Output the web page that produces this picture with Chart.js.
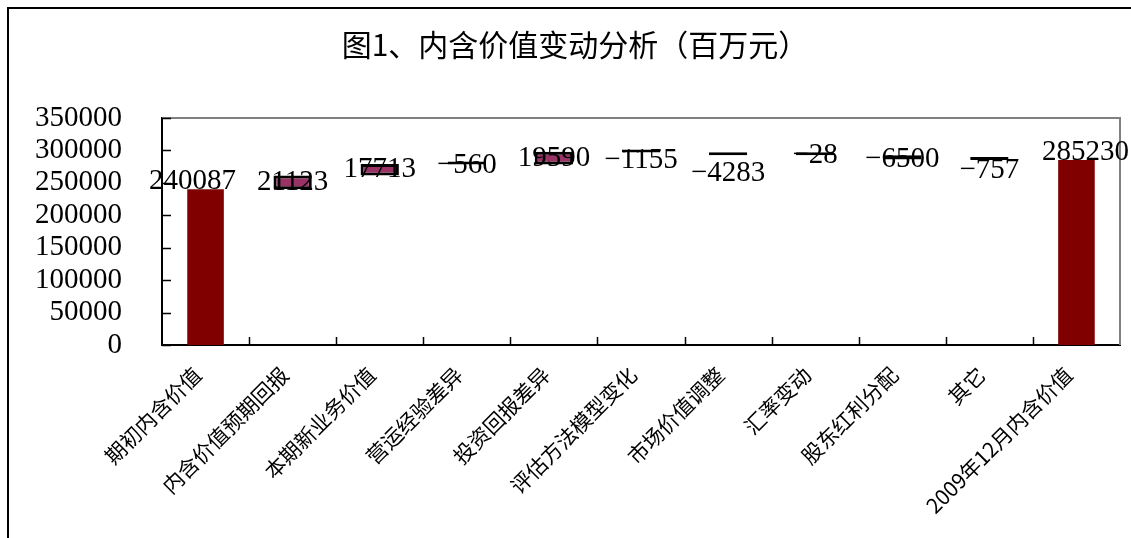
<!DOCTYPE html>
<html>
<head>
<meta charset="utf-8">
<script src="https://cdn.jsdelivr.net/npm/chart.js@4.4.1/dist/chart.umd.min.js"></script>
<style>
  html, body { margin: 0; padding: 0; background: #fff; }
  #wrap { position: relative; width: 1131px; height: 538px; }
</style>
</head>
<body>
<div id="wrap"><canvas id="myChart" width="1131" height="538"></canvas></div>
<script>
// x axis categories
var categories = [
  '期初内含价值',
  '内含价值预期回报',
  '本期新业务价值',
  '营运经验差异',
  '投资回报差异',
  '评估方法模型变化',
  '市场价值调整',
  '汇率变动',
  '股东红利分配',
  '其它',
  '2009年12月内含价值'
];

// opening value, the changes, closing value (百万元)
var values = [240087, 21123, 17713, -560, 19590, -1155, -4283, -28, -6500, -757, 285230];

// y axis tick labels
var yTicks = [0, 50000, 100000, 150000, 200000, 250000, 300000, 350000];

// totals are drawn from zero, the changes float on the running total
var last = values.length - 1;
var totals = values.map(function (v, i) { return (i === 0 || i === last) ? v : null; });
var steps = [];
var running = values[0];
values.forEach(function (v, i) {
  if (i === 0 || i === last) { steps.push(null); return; }
  steps.push([running, running + v]);
  running += v;
});

function fmt(v) {
  return v < 0 ? '\u2212' + Math.abs(v) : String(v);
}

var serif = '"Liberation Serif", "DejaVu Serif", serif';
var cjk = '"Noto Sans CJK SC", "Noto Sans", sans-serif';

//outer frame, plot border and the small inward ticks
var framePlugin = {
  id: 'frame',
  beforeDraw: function (chart) {
    var ctx = chart.ctx;
    ctx.save();
    ctx.strokeStyle = '#000';
    ctx.lineWidth = 2;
    ctx.beginPath();
    ctx.moveTo(8, 538);
    ctx.lineTo(8, 8);
    ctx.lineTo(1131, 8);
    ctx.stroke();
    ctx.restore();
  },
  beforeDatasetsDraw: function (chart) {
    var ctx = chart.ctx, a = chart.chartArea;
    var x = chart.scales.x, y = chart.scales.y;
    ctx.save();
    ctx.strokeStyle = '#808080';
    ctx.lineWidth = 2;
    ctx.beginPath();
    ctx.moveTo(a.left, a.top);
    ctx.lineTo(a.right, a.top);
    ctx.lineTo(a.right, a.bottom);
    ctx.stroke();

    ctx.strokeStyle = '#000';
    ctx.lineWidth = 1.5;
    ctx.beginPath();
    yTicks.forEach(function (v) {
      var py = Math.round(y.getPixelForValue(v)) + 0.5;
      ctx.moveTo(a.left, py);
      ctx.lineTo(a.left + 9, py);
    });
    for (var i = 1; i < categories.length; i++) {
      var px = Math.round((x.getPixelForValue(i - 1) + x.getPixelForValue(i)) / 2) + 0.5;
      ctx.moveTo(px, a.bottom);
      ctx.lineTo(px, a.bottom - 8);
    }
    ctx.stroke();
    ctx.restore();
  }
};

//value labels on the bars
var labelPlugin = {
  id: 'valueLabels',
  afterDatasetsDraw: function (chart, args, opts) {
    var ctx = chart.ctx;
    ctx.save();
    ctx.font = '29px ' + serif;
    ctx.fillStyle = '#000';
    ctx.textAlign = 'center';
    chart.data.datasets.forEach(function (ds, di) {
      var meta = chart.getDatasetMeta(di);
      meta.data.forEach(function (bar, i) {
        if (ds.data[i] == null) return;
        var dx = opts.shiftX[i] || 0;
        if (di === 0) {
          ctx.textBaseline = 'alphabetic';
          ctx.fillText(fmt(values[i]), bar.x + dx, bar.y);
        } else {
          ctx.textBaseline = 'middle';
          ctx.fillText(fmt(values[i]), bar.x + dx, (bar.y + bar.base) / 2 + (opts.nudge[i] || 0));
        }
      });
    });
    ctx.restore();
  }
};

var ctx = document.getElementById('myChart').getContext('2d');

var myChart = new Chart(ctx, {
  type: 'bar',
  data: {
    labels: categories,
    datasets: [{
      label: '内含价值',
      data: totals,
      backgroundColor: '#800000',
      borderWidth: 0,
      grouped: false,
      categoryPercentage: 1,
      barPercentage: 0.42
    }, {
      label: '变动',
      data: steps,
      backgroundColor: '#993366',
      borderColor: '#000',
      borderWidth: 3,
      borderSkipped: false,
      minBarLength: 3,
      grouped: false,
      categoryPercentage: 1,
      barPercentage: 0.44
    }]
  },
  options: {
    responsive: false,
    animation: false,
    devicePixelRatio: 1,
    layout: { padding: { left: 30, right: 11, top: 0, bottom: 0 } },
    plugins: {
      legend: { display: false },
      tooltip: { enabled: false },
      title: {
        display: true,
        text: '图1、内含价值变动分析（百万元）',
        color: '#000',
        font: { family: cjk, size: 30, weight: 'normal', lineHeight: 1.2 },
        padding: { top: 27, bottom: 55 }
      },
      valueLabels: {
        nudge: { 3: 2, 5: 9, 6: 20, 7: 2, 8: 2, 9: 12 },
        shiftX: { 0: -13, 10: 9 }
      }
    },
    scales: {
      x: {
        grid: { display: false, drawTicks: false },
        border: { color: '#000', width: 2 },
        ticks: {
          color: '#000',
          font: { family: cjk, size: 21 },
          minRotation: 45,
          maxRotation: 45,
          autoSkip: false,
          padding: 17,
          labelOffset: -8
        },
        afterFit: function (s) { s.height = 193; }
      },
      y: {
        min: 0,
        max: 350000,
        grid: { display: false, drawTicks: false },
        border: { color: '#000', width: 2 },
        ticks: {
          color: '#000',
          font: { family: serif, size: 29 },
          padding: 40,
          autoSkip: false,
          callback: function (v) { return String(v); }
        },
        afterBuildTicks: function (s) {
          s.ticks = yTicks.map(function (v) { return { value: v }; });
        },
        afterFit: function (s) { s.width = 132; }
      }
    }
  },
  plugins: [framePlugin, labelPlugin]
});
</script>
</body>
</html>
